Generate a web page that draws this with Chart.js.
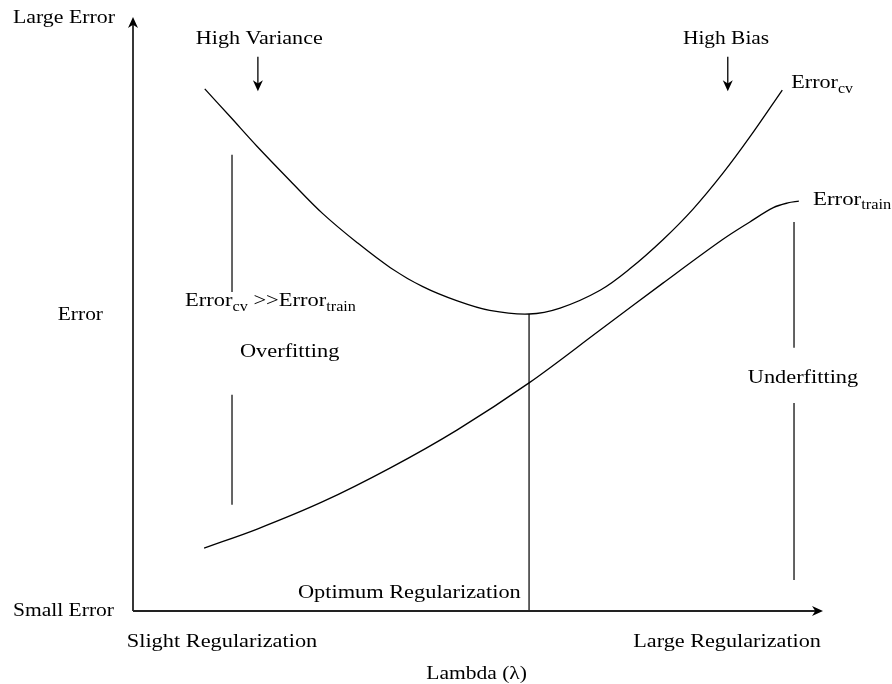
<!DOCTYPE html>
<html>
<head>
<meta charset="utf-8">
<script src="https://cdn.jsdelivr.net/npm/chart.js@4/dist/chart.umd.min.js"></script>
<style>
  html, body { margin: 0; padding: 0; background: #ffffff; }
  #c { display: block; }
</style>
</head>
<body>
<canvas id="c" width="892" height="684"></canvas>
<script>
// ---- Data (abstract units: lambda 0..100, error 0..100) ----
const cvLambda    = [10.4, 14.1, 18.0, 22.8, 27.5, 32.5, 37.3, 42.0, 47.0, 51.7, 57.4, 61.9, 67.7, 72.0, 76.8, 81.2, 85.5, 89.4, 94.1];
const cvError     = [87.9, 83.2, 78.2, 72.4, 66.9, 62.0, 57.8, 54.6, 52.2, 50.6, 50.0, 51.0, 54.0, 57.6, 62.5, 67.7, 73.7, 79.8, 87.7];
const trainLambda = [10.3, 18.0, 27.5, 37.3, 47.0, 57.4, 67.7, 76.8, 85.4, 89.4, 92.8, 94.9, 96.5];
const trainError  = [10.6, 13.8, 18.4, 24.1, 30.5, 38.4, 47.3, 55.2, 62.5, 65.5, 67.9, 68.7, 69.0];

// optimum regularization marker
const optimumLambda = 57.4;
const optimumError  = 50.0;

// bracket segments (lambda, [from error, to error])
const overfitLambda   = 14.35;
const overfitSpans    = [[76.8, 53.7], [36.4, 17.9]];
const underfitLambda  = 95.8;
const underfitSpans   = [[65.5, 44.3], [35.0, 5.2]];

// indicator arrows (lambda, from error, to error)
const arrowLambdas = [18.1, 86.2];
const arrowFrom = 93.3, arrowTo = 87.5;

// text labels: segments, left lambda, right lambda, error (vertical centre)
const labels = [
  { seg: [['Large Error']], x0: -17.4, x1: -2.6, y: 100.0 },
  { seg: [['High Variance']], x0: 9.1, x1: 27.5, y: 96.6 },
  { seg: [['High Bias']], x0: 79.7, x1: 92.2, y: 96.6 },
  { seg: [['Error'], ['cv', 1]], x0: 95.4, x1: 104.35, y: 89.1 },
  { seg: [['Error'], ['train', 1]], x0: 98.55, x1: 109.9, y: 69.5 },
  { seg: [['Error']], x0: -10.9, x1: -4.35, y: 50.0 },
  { seg: [['Error'], ['cv', 1], [' >>Error'], ['train', 1]], x0: 7.54, x1: 32.3, y: 52.4 },
  { seg: [['Overfitting']], x0: 15.5, x1: 29.9, y: 43.9 },
  { seg: [['Underfitting']], x0: 89.1, x1: 105.1, y: 39.4 },
  { seg: [['Optimum Regularization']], x0: 23.9, x1: 56.2, y: 3.2 },
  { seg: [['Small Error']], x0: -17.4, x1: -2.75, y: 0.2 },
  { seg: [['Slight Regularization']], x0: -0.9, x1: 26.7, y: -4.9 },
  { seg: [['Large Regularization']], x0: 72.5, x1: 99.7, y: -4.9 },
  { seg: [['Lambda (λ)']], x0: 42.5, x1: 57.1, y: -10.3 }
];

const FONT = '"Liberation Serif", "DejaVu Serif", serif';
const MAIN_PX = 19.5, SUB_PX = 14;

function pts(xs, ys) { return xs.map((x, i) => ({ x: x, y: ys[i] })); }

const datasets = [
  { data: pts(cvLambda, cvError), borderColor: '#000', borderWidth: 1.3, tension: 0.35 },
  { data: pts(trainLambda, trainError), borderColor: '#000', borderWidth: 1.3, tension: 0.35 },
  { data: [{ x: optimumLambda, y: optimumError }, { x: optimumLambda, y: 0 }], borderColor: '#111', borderWidth: 1.3 }
];
overfitSpans.forEach(s => datasets.push({ data: [{ x: overfitLambda, y: s[0] }, { x: overfitLambda, y: s[1] }], borderColor: '#333', borderWidth: 1.5 }));
underfitSpans.forEach(s => datasets.push({ data: [{ x: underfitLambda, y: s[0] }, { x: underfitLambda, y: s[1] }], borderColor: '#111', borderWidth: 1.3 }));
datasets.forEach(d => { d.showLine = true; d.pointRadius = 0; d.fill = false; d.clip = false; });

function arrowHead(ctx, x, y, dx, dy, len, half) {
  const px = -dy, py = dx;
  ctx.beginPath();
  ctx.moveTo(x, y);
  ctx.lineTo(x - dx * len + px * half, y - dy * len + py * half);
  ctx.lineTo(x - dx * len * 0.7, y - dy * len * 0.7);
  ctx.lineTo(x - dx * len - px * half, y - dy * len - py * half);
  ctx.closePath();
  ctx.fill();
}

const decor = {
  id: 'decor',
  afterDatasetsDraw(chart) {
    const ctx = chart.ctx, a = chart.chartArea;
    const xs = chart.scales.x, ys = chart.scales.y;
    ctx.save();
    // axes
    ctx.strokeStyle = '#222'; ctx.fillStyle = '#000'; ctx.lineWidth = 1.8;
    ctx.beginPath();
    ctx.moveTo(a.left, a.bottom); ctx.lineTo(a.left, a.top + 4);
    ctx.moveTo(a.left, a.bottom); ctx.lineTo(a.right - 4, a.bottom);
    ctx.stroke();
    arrowHead(ctx, a.left, a.top, 0, -1, 11, 5);
    arrowHead(ctx, a.right, a.bottom, 1, 0, 11, 5);
    // indicator arrows
    ctx.lineWidth = 1.3; ctx.strokeStyle = '#000';
    arrowLambdas.forEach(l => {
      const x = xs.getPixelForValue(l);
      const y0 = ys.getPixelForValue(arrowFrom), y1 = ys.getPixelForValue(arrowTo);
      ctx.beginPath(); ctx.moveTo(x, y0); ctx.lineTo(x, y1 - 4); ctx.stroke();
      arrowHead(ctx, x, y1, 0, 1, 11, 5);
    });
    // labels
    ctx.fillStyle = '#000';
    ctx.textBaseline = 'alphabetic';
    labels.forEach(lb => {
      let w = 0;
      lb.seg.forEach(s => {
        ctx.font = (s[1] ? SUB_PX : MAIN_PX) + 'px ' + FONT;
        w += ctx.measureText(s[0]).width;
      });
      const left = xs.getPixelForValue(lb.x0), right = xs.getPixelForValue(lb.x1);
      const yc = ys.getPixelForValue(lb.y);
      const sx = (right - left) / w;
      ctx.save();
      ctx.translate(left, yc + MAIN_PX * 0.33);
      ctx.scale(sx, 1);
      let cx = 0;
      lb.seg.forEach(s => {
        ctx.font = (s[1] ? SUB_PX : MAIN_PX) + 'px ' + FONT;
        ctx.fillText(s[0], cx, s[1] ? 4.5 : 0);
        cx += ctx.measureText(s[0]).width;
      });
      ctx.restore();
    });
    ctx.restore();
  }
};

new Chart(document.getElementById('c'), {
  type: 'scatter',
  data: { datasets: datasets },
  options: {
    responsive: false,
    animation: false,
    layout: { padding: { left: 133, right: 69, top: 17, bottom: 73 } },
    scales: {
      x: { type: 'linear', min: 0, max: 100, display: false },
      y: { type: 'linear', min: 0, max: 100, display: false }
    },
    plugins: { legend: { display: false }, tooltip: { enabled: false } }
  },
  plugins: [decor]
});
</script>
</body>
</html>
